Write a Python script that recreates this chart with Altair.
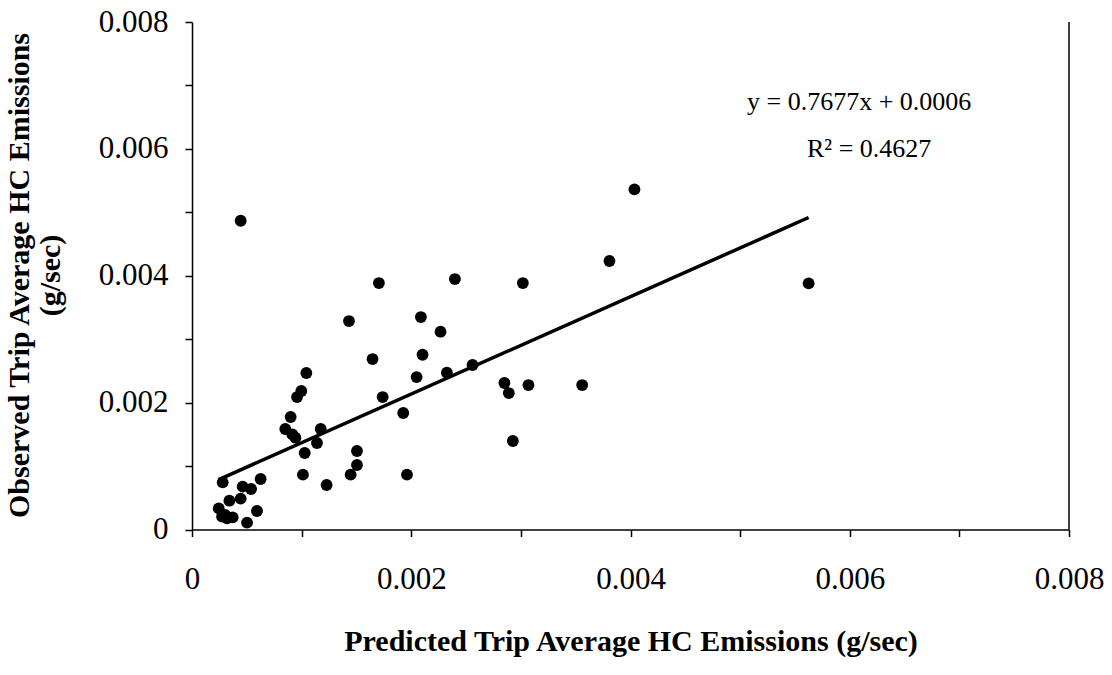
import altair as alt
import pandas as pd

# Predicted (x) vs observed (y) trip average HC emissions, g/sec
predicted = [0.000444, 0.001705, 0.001432, 0.002398, 0.003018, 0.002088, 0.002267,
             0.003808, 0.004036, 0.005625,
             0.002103, 0.002049, 0.002325, 0.002559, 0.002850, 0.002890, 0.003069,
             0.003559, 0.002927, 0.001927, 0.001961,
             0.001647, 0.001739, 0.001043, 0.000997, 0.000958, 0.000900, 0.000851,
             0.000915, 0.000943, 0.001174, 0.001140, 0.001028, 0.001012, 0.001228,
             0.001505, 0.001505, 0.001447, 0.000280, 0.000626, 0.000462, 0.000539,
             0.000341, 0.000444, 0.000244, 0.000593, 0.000302, 0.000320, 0.000371,
             0.000274, 0.000502]
observed = [0.004867, 0.003885, 0.003286, 0.003948, 0.003885, 0.003349, 0.003118,
            0.004232, 0.005362, 0.003880,
            0.002755, 0.002403, 0.002471, 0.002593, 0.002309, 0.002151, 0.002277,
            0.002277, 0.001395, 0.001836, 0.000864,
            0.002687, 0.002088, 0.002467, 0.002183, 0.002088, 0.001773, 0.001584,
            0.001500, 0.001447, 0.001584, 0.001363, 0.001206, 0.000864, 0.000701,
            0.001237, 0.001017, 0.000864, 0.000743, 0.000796, 0.000675, 0.000638,
            0.000454, 0.000486, 0.000333, 0.000291, 0.000228, 0.000176, 0.000192,
            0.000202, 0.000108]

slope = 0.7677
intercept = 0.0006
equation_text = "y = 0.7677x + 0.0006"
r2_text = "R\u00b2 = 0.4627"
tick_values = [0, 0.001, 0.002, 0.003, 0.004, 0.005, 0.006, 0.007, 0.008]

FONT = "Liberation Serif"

pts = pd.DataFrame({"x": predicted, "y": observed})
xmin, xmax = min(predicted), max(predicted)
trend = pd.DataFrame({"x": [xmin, xmax],
                      "y": [slope * xmin + intercept, slope * xmax + intercept]})

label_expr = ("(round(datum.value*1000) % 2 == 0) ? "
              "(datum.value == 0 ? '0' : format(datum.value, '.3f')) : ''")

xscale = alt.Scale(domain=[0, 0.008], nice=False, zero=True)
yscale = alt.Scale(domain=[0, 0.008], nice=False, zero=True)

xaxis = alt.Axis(values=tick_values, labelExpr=label_expr,
                 title="Predicted Trip Average HC Emissions (g/sec)",
                 labelPadding=28, titlePadding=32, labelFlush=False)
yaxis = alt.Axis(values=tick_values, labelExpr=label_expr,
                 title=["Observed Trip Average HC Emissions", "(g/sec)"],
                 labelPadding=17, titleX=-164, titleY=253, titleAngle=-90,
                 titleAlign="center", titleBaseline="alphabetic",
                 titleLineHeight=31)

points = alt.Chart(pts).mark_circle(size=140, color="black", opacity=1).encode(
    x=alt.X("x:Q", scale=xscale, axis=xaxis),
    y=alt.Y("y:Q", scale=yscale, axis=yaxis),
)

line = alt.Chart(trend).mark_line(color="black", strokeWidth=3.5).encode(
    x=alt.X("x:Q", scale=xscale),
    y=alt.Y("y:Q", scale=yscale),
)

frame = alt.Chart(pd.DataFrame({"a": [0]})).mark_rule(color="black", strokeWidth=1.5).encode(
    x=alt.value(877), y=alt.value(0), y2=alt.value(507.5)
)

eq = alt.Chart(pd.DataFrame({"t": [equation_text]})).mark_text(
    font=FONT, fontSize=26, align="left", baseline="alphabetic", color="black"
).encode(text="t:N", x=alt.value(555), y=alt.value(88))

r2 = alt.Chart(pd.DataFrame({"t": [r2_text]})).mark_text(
    font=FONT, fontSize=26, align="left", baseline="alphabetic", color="black"
).encode(text="t:N", x=alt.value(615), y=alt.value(135))

chart = alt.layer(line, points, frame, eq, r2).properties(
    width=877, height=507.5,
    padding={"left": 192, "top": 22, "right": 43, "bottom": 145.5},
    autosize=alt.AutoSizeParams(type="none"),
    background="white",
).configure_view(stroke=None).configure_axis(
    grid=False, domainColor="black", tickColor="black", domainWidth=1.5,
    tickWidth=1.5, tickSize=7, labelFont=FONT, labelFontSize=31,
    labelColor="black", titleFont=FONT, titleFontSize=30, titleFontWeight="bold",
    titleColor="black",
)

chart.save("out.html", embed_options={"renderer": "svg", "actions": False})
